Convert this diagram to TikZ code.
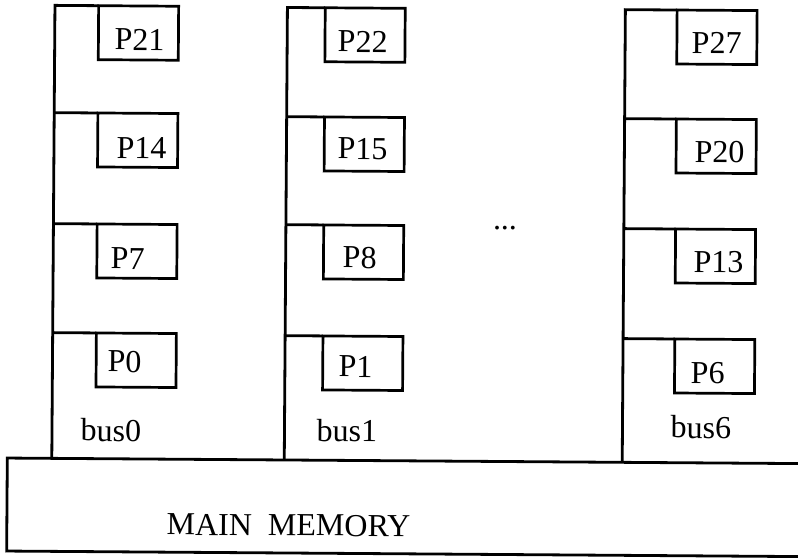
\documentclass[tikz,border=0pt]{standalone}
\usepackage{fontspec}
\setmainfont{Liberation Serif}
\begin{document}
\begin{tikzpicture}[x=1bp,y=-1bp,
  wire/.style={line width=2.8bp},
  pbox/.style={draw, line width=2.7bp, minimum width=80bp, minimum height=54bp,
               inner sep=0pt, outer sep=0pt, anchor=north west},
  membox/.style={draw, line width=2.8bp, minimum width=820bp, minimum height=93bp,
               inner sep=0pt, outer sep=0pt, anchor=north west},
  lbl/.style={font=\fontsize{32bp}{36bp}\selectfont, inner sep=0pt, anchor=base west},
]
\useasboundingbox (0,0) rectangle (798,559);
\begin{scope}[rotate=-0.4, transform shape]
  % shared memory
  \node[membox] (mem) at (10.5,458) {};
  \node[lbl] (memtxt) at (170.2,533.8) {MAIN\ \ MEMORY};

  % bus 0 and its processors
  \coordinate (b0top) at (55,5);
  \node[pbox] (p21) at (98.7,5)     {};
  \node[pbox] (p14) at (98.7,112.3) {};
  \node[pbox] (p7)  at (98.7,223.3) {};
  \node[pbox] (p0)  at (98.7,332.3) {};
  \node[lbl] at (114.8,49.2)  {P21};
  \node[lbl] at (117.6,157.2) {P14};
  \node[lbl] at (112.4,268.2) {P7};
  \node[lbl] at (110.1,371.2) {P0};
  \node[lbl] (bus0) at (83.6,440.4) {bus0};
  \draw[wire] (b0top |- mem.north) -- (b0top) -- (p21.north west);
  \draw[wire] (b0top |- p14.north west) -- (p14.north west);
  \draw[wire] (b0top |- p7.north west) -- (p7.north west);
  \draw[wire] (b0top |- p0.north west) -- (p0.north west);

  % bus 1 and its processors
  \coordinate (b1top) at (287.5,5.5);
  \node[pbox] (p22) at (325.3,5.5)   {};
  \node[pbox] (p15) at (325.3,114.7) {};
  \node[pbox] (p8)  at (325.3,222.7) {};
  \node[pbox] (p1)  at (325.3,333.7) {};
  \node[lbl] at (337.9,49.6)  {P22};
  \node[lbl] at (338.6,156.6) {P15};
  \node[lbl] at (344.4,265.6) {P8};
  \node[lbl] at (341.1,374.6) {P1};
  \node[lbl] (bus1) at (319.6,438.8) {bus1};
  \draw[wire] (b1top |- mem.north) -- (b1top) -- (p22.north west);
  \draw[wire] (b1top |- p15.north west) -- (p15.north west);
  \draw[wire] (b1top |- p8.north west) -- (p8.north west);
  \draw[wire] (b1top |- p1.north west) -- (p1.north west);

  % buses 2..5 elided
  \node[font=\fontsize{32bp}{36bp}\selectfont, inner sep=0pt, anchor=base] (dots) at (506.6,226) {...};

  % bus 6 and its processors
  \coordinate (b6top) at (625.5,5.3);
  \node[pbox] (p27) at (677.2,5.3)   {};
  \node[pbox] (p20) at (677.2,114.3) {};
  \node[pbox] (p13) at (677.2,224.3) {};
  \node[pbox] (p6)  at (677.2,334.3) {};
  \node[lbl] at (691.9,48.2)  {P27};
  \node[lbl] at (695.6,157.2) {P20};
  \node[lbl] at (695.4,267.2) {P13};
  \node[lbl] at (693.2,378.2) {P6};
  \node[lbl] (bus6) at (673.6,433.3) {bus6};
  \draw[wire] (b6top |- mem.north) -- (b6top) -- (p27.north west);
  \draw[wire] (b6top |- p20.north west) -- (p20.north west);
  \draw[wire] (b6top |- p13.north west) -- (p13.north west);
  \draw[wire] (b6top |- p6.north west) -- (p6.north west);
\end{scope}
\end{tikzpicture}
\end{document}
